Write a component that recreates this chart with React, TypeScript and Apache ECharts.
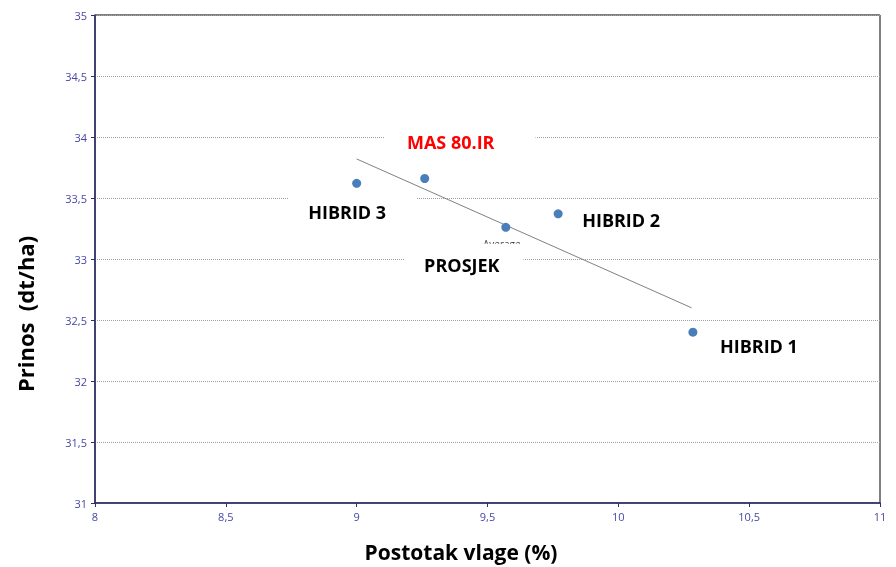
import React, { useEffect, useRef } from "react";
import * as echarts from "echarts";

const hybridNames = ["HIBRID 3", "MAS 80.IR", "PROSJEK", "HIBRID 2", "HIBRID 1"];
const moisture = [9.0, 9.26, 9.57, 9.77, 10.285];
const yieldValues = [33.62, 33.66, 33.26, 33.37, 32.4];
const trendX = [9.0, 10.28];
const trendY = [33.82, 32.6];
const xTicks = { min: 8, max: 11, interval: 0.5 };
const yTicks = { min: 31, max: 35, interval: 0.5 };

const FONT = "'Open Sans', 'Liberation Sans', sans-serif";

// padding: [top, right, bottom, left]
const labelStyles: Record<string, any> = {
  "HIBRID 3": { offset: [-4.5, 29], padding: [10, 30, 10, 20], color: "#000" },
  "MAS 80.IR": { offset: [35.5, -36], padding: [10, 41, 10, 22], color: "#ff0000" },
  PROSJEK: { offset: [-42, 38], padding: [17, 24, 8, 20], color: "#000" },
  "HIBRID 2": { offset: [70, 6], padding: [14, 31, 8, 17], color: "#000" },
  "HIBRID 1": { offset: [66, 14], padding: [0, 0, 0, 0], color: "#000" },
};

export default function App() {
  const ref = useRef<HTMLDivElement>(null);
  useEffect(() => {
    if (!ref.current) return;
    const chart = echarts.init(ref.current, undefined, { renderer: "svg" });
    const fmt = (v: number) => String(v).replace(".", ",");
    const pointData = hybridNames.map((n, i) => {
      const s = labelStyles[n];
      return {
        name: n,
        value: [moisture[i], yieldValues[i]],
        label: {
          show: true,
          position: "inside",
          align: "center",
          verticalAlign: "middle",
          offset: s.offset,
          formatter: n,
          color: s.color,
          fontSize: 18,
          fontWeight: "bold",
          fontFamily: FONT,
          backgroundColor: n === "HIBRID 1" ? "transparent" : "#ffffff",
          padding: s.padding,
        },
      };
    });
    const avgIdx = hybridNames.indexOf("PROSJEK");
    chart.setOption({
      animation: false,
      grid: {
        left: 95,
        right: 16,
        top: 15,
        bottom: 64,
        show: true,
        borderColor: "#000",
        borderWidth: 1,
        backgroundColor: "transparent",
      },
      xAxis: {
        type: "value",
        min: xTicks.min,
        max: xTicks.max,
        interval: xTicks.interval,
        name: "Postotak vlage (%)",
        nameLocation: "middle",
        nameGap: 38,
        nameTextStyle: {
          fontSize: 21,
          fontWeight: "bold",
          color: "#000",
          fontFamily: FONT,
          padding: [0, 53, 0, 0],
        },
        axisLine: { show: true, lineStyle: { color: "#2e2e6e", width: 1.5 } },
        axisTick: { show: true, length: 4, lineStyle: { color: "#2e2e6e" } },
        axisLabel: { color: "#4646a6", fontSize: 11, fontFamily: FONT, formatter: fmt, margin: 8 },
        splitLine: { show: false },
      },
      yAxis: {
        type: "value",
        min: yTicks.min,
        max: yTicks.max,
        interval: yTicks.interval,
        name: "Prinos  (dt/ha)",
        nameLocation: "middle",
        nameGap: 59,
        nameTextStyle: {
          fontSize: 22,
          fontWeight: "bold",
          color: "#000",
          fontFamily: FONT,
          padding: [0, 110, 0, 0],
        },
        axisLine: { show: true, lineStyle: { color: "#2e2e6e", width: 1.5 } },
        axisTick: { show: true, length: 4, lineStyle: { color: "#2e2e6e" } },
        axisLabel: { color: "#4646a6", fontSize: 11, fontFamily: FONT, formatter: fmt, margin: 8 },
        splitLine: { show: true, lineStyle: { color: "#a0a0a0", type: "dotted", width: 1 } },
      },
      series: [
        {
          type: "line",
          name: "trend",
          data: trendX.map((x, i) => [x, trendY[i]]),
          symbol: "none",
          lineStyle: { color: "#808080", width: 1 },
          z: 2,
          silent: true,
        },
        {
          type: "scatter",
          name: "Average",
          data: [[moisture[avgIdx], yieldValues[avgIdx]]],
          symbolSize: 0,
          z: 1,
          label: {
            show: true,
            position: "inside",
            offset: [-4, 17],
            formatter: "Average",
            fontSize: 10,
            color: "#000",
            fontFamily: FONT,
          },
        },
        {
          type: "scatter",
          name: "points",
          data: pointData,
          symbolSize: 9,
          itemStyle: { color: "#4a7ebb", opacity: 1 },
          z: 5,
        },
      ],
    });
    return () => chart.dispose();
  }, []);
  return (
    <div
      ref={ref}
      style={{ position: "fixed", left: 0, top: 0, width: 896, height: 567 }}
    />
  );
}
